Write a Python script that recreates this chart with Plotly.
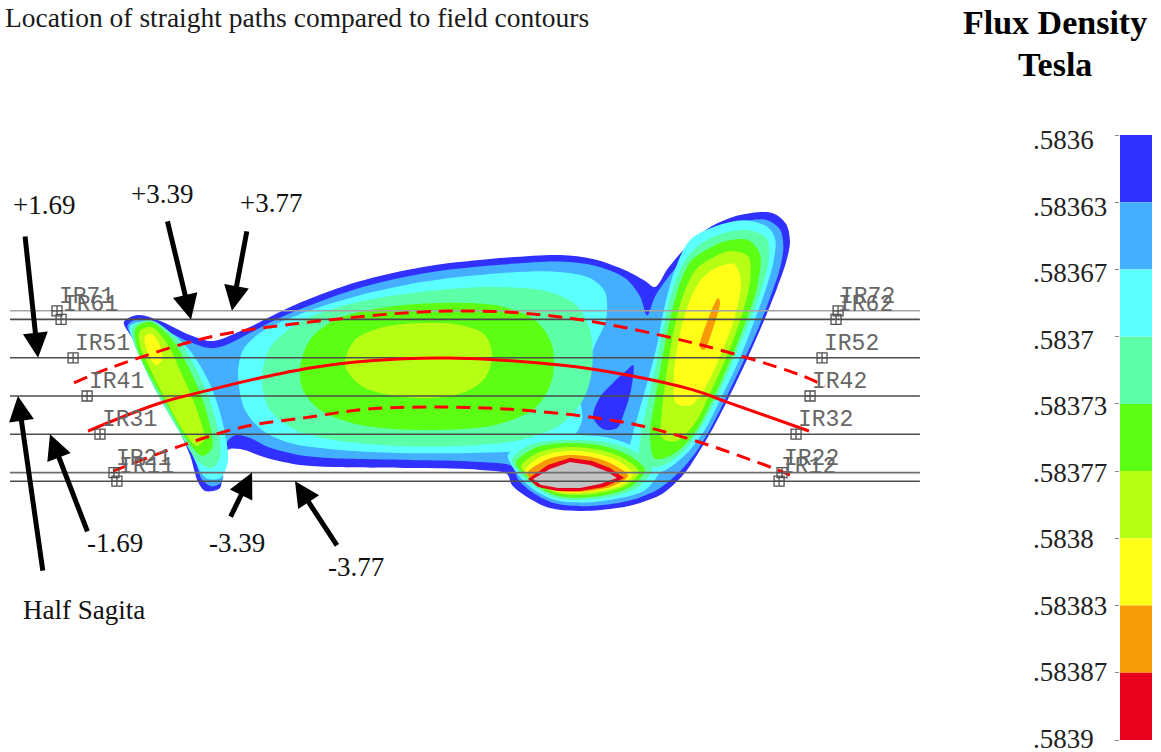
import plotly.graph_objects as go

# ---------------------------------------------------------------------------
# Flux density levels (Tesla) and the fill colour of each band, low -> high
levels = [0.5836, 0.58363, 0.58367, 0.5837, 0.58373, 0.58377, 0.5838, 0.58383, 0.58387, 0.5839]
band_colors = ["#3030FF", "#44AEFF", "#5CFFFF", "#5CFFA8", "#5CFF14", "#B6FF14",
               "#FFFF18", "#F79A08", "#E8001C"]
over_color = "#C3C3C3"          # above the top level

# Straight paths: offset from the half-sagitta line (same units as the field)
path_ids = [7, 6, 5, 4, 3, 2, 1]
path_offsets = [3.77, 3.39, 1.69, 0.0, -1.69, -3.39, -3.77]
path_colors = ["#A3A3A3", "#4D4D4D", "#4D4D4D", "#4D4D4D", "#4D4D4D", "#6E6E6E", "#4D4D4D"]
path_span = [-19.38, 20.88]
entry_x = [-17.30, -17.12, -16.59, -15.97, -15.40, -14.78, -14.65]
exit_x = [17.26, 17.17, 16.55, 16.02, 15.40, 14.78, 14.65]

# Curved trajectory (solid) and its two offset envelopes (dashed)
arc_x = [-15.93, -12.74, -10.53, -8.32, -6.11, -3.58, 0.0, 4.96, 7.92, 10.84, 12.35, 15.97]
arc_y = [-1.55, -0.31, 0.27, 0.80, 1.24, 1.55, 1.68, 1.37, 0.93, 0.27, -0.27, -1.55]
upper_x = [-16.55, -14.96, -10.53, -6.11, 0.0, 4.96, 10.84, 15.58, 16.68]
upper_y = [0.58, 1.24, 2.61, 3.27, 3.76, 3.50, 2.35, 0.93, 0.44]
lower_x = [-14.82, -11.99, -9.07, -6.11, -3.58, 0.0, 3.76, 7.92, 10.84, 14.38, 15.13]
lower_y = [-3.32, -2.26, -1.37, -0.93, -0.58, -0.49, -0.66, -1.19, -1.95, -3.19, -3.50]

# ---------------------------------------------------------------------------
# Field contour outlines (x, y)
OUTLINE = [(-14.34, 3.27), (-13.72, 3.58), (-12.74, 3.32), (-11.42, 2.70), (-10.44, 2.43),
           (-9.07, 2.92), (-7.88, 3.50), (-6.68, 4.07), (-4.03, 5.04), (-1.11, 5.71),
           (1.86, 6.06), (4.96, 6.24), (6.42, 6.06), (7.92, 5.53), (8.72, 5.09), (9.16, 4.82),
           (9.74, 5.66), (10.71, 6.77), (11.68, 7.52), (12.92, 8.01), (14.34, 8.10),
           (14.96, 7.61), (15.13, 6.81), (14.96, 5.93), (14.56, 4.78), (14.03, 3.45),
           (13.28, 1.73), (12.48, 0.04), (11.73, -1.42), (11.02, -2.61), (10.40, -3.50),
           (9.47, -4.34), (8.50, -4.73), (7.48, -4.96), (5.97, -5.09), (4.51, -4.96),
           (3.50, -4.47), (2.83, -3.94), (2.61, -3.45), (1.42, -3.27), (-1.24, -3.19),
           (-5.09, -3.14), (-6.55, -3.05), (-8.01, -2.74), (-9.20, -2.35), (-9.74, -2.39),
           (-10.00, -3.27), (-10.09, -4.07), (-10.75, -4.20), (-11.06, -3.81), (-11.42, -2.61),
           (-12.08, -1.15), (-12.74, 0.04), (-13.41, 1.37), (-13.98, 2.57)]

INNER_BASE = [(-14.18, 3.12), (-13.66, 3.42), (-12.83, 3.10), (-11.64, 2.48), (-10.53, 2.12),
              (-9.82, 2.26), (-8.94, 2.70), (-7.79, 3.30), (-6.55, 3.84), (-4.03, 4.75),
              (-1.11, 5.42), (1.86, 5.77), (4.96, 5.95), (6.42, 5.78), (7.83, 5.22), (8.50, 4.40),
              (8.81, 3.56), (9.16, 4.40), (9.74, 5.25), (10.71, 6.38), (11.68, 7.12),
              (12.92, 7.68), (14.07, 7.80), (14.70, 7.35), (14.84, 6.55), (14.66, 5.55),
              (14.27, 4.40), (13.79, 3.14), (13.10, 1.59), (12.30, -0.09), (11.58, -1.50),
              (10.88, -2.61), (10.20, -3.40), (9.30, -4.13), (8.36, -4.53), (7.30, -4.77),
              (5.97, -4.88), (4.68, -4.74), (3.75, -4.27), (3.10, -3.68), (2.85, -3.12),
              (1.42, -2.92), (-1.24, -2.84), (-5.09, -2.75), (-6.55, -2.62), (-7.96, -2.26),
              (-8.76, -1.86), (-9.38, -1.73), (-9.82, -2.08), (-10.00, -2.83), (-9.98, -3.76),
              (-10.44, -4.00), (-10.88, -3.70), (-11.25, -2.61), (-11.92, -1.19),
              (-12.58, 0.00), (-13.25, 1.28), (-13.84, 2.39)]

ISLAND = [(6.42, -0.93), (6.73, -0.04), (7.30, 0.58), (7.92, 1.15), (8.19, 1.37), (8.10, 0.27),
          (7.79, -0.75), (7.48, -1.42), (6.86, -1.46)]

# left lobe
LEFT_2 = [(-14.07, 3.10), (-13.19, 3.27), (-11.64, 2.26), (-10.62, 0.71), (-10.00, -1.06),
          (-9.74, -2.92), (-10.09, -3.63), (-10.71, -3.63), (-11.42, -2.39), (-12.30, -0.84),
          (-13.10, 0.58), (-13.76, 2.04)]
LEFT_3 = [(-13.94, 3.05), (-13.19, 3.36), (-11.95, 2.48), (-10.97, 0.84), (-10.31, -0.93),
          (-10.09, -2.74), (-10.49, -3.19), (-11.11, -2.83), (-11.99, -1.42), (-12.88, 0.13),
          (-13.54, 1.50), (-13.94, 2.48)]
LEFT_4 = [(-13.81, 3.01), (-13.19, 3.27), (-12.30, 2.61), (-11.42, 1.15), (-10.71, -0.62),
          (-10.44, -2.30), (-10.88, -2.65), (-11.55, -1.95), (-12.43, -0.40), (-13.28, 1.06),
          (-13.76, 2.17)]
LEFT_5 = [(-13.63, 2.88), (-13.14, 3.05), (-12.48, 2.39), (-11.77, 0.93), (-11.11, -0.62),
          (-10.80, -1.95), (-11.11, -2.21), (-11.68, -1.59), (-12.48, -0.18), (-13.19, 1.24),
          (-13.63, 2.26)]
LEFT_6 = [(-13.41, 2.65), (-13.10, 2.74), (-12.74, 2.21), (-12.65, 1.59), (-12.92, 1.37),
          (-13.28, 1.90)]

# main body
BODY_2 = [(-9.29, 0.93), (-9.07, 2.04), (-8.23, 2.85), (-6.55, 3.62), (-4.03, 4.42),
          (-1.11, 5.05), (1.86, 5.40), (4.73, 5.50), (6.28, 5.22), (6.95, 4.60), (6.99, 3.36),
          (6.50, 2.26), (6.06, 1.15), (5.84, 0.04), (5.93, -1.06), (5.40, -1.95), (3.63, -2.39),
          (0.97, -2.52), (-2.12, -2.52), (-4.78, -2.39), (-6.99, -2.08), (-8.23, -1.50),
          (-8.98, -0.62)]
BODY_3 = [(-8.23, 0.71), (-7.88, 2.12), (-6.55, 3.27), (-4.34, 4.07), (-1.24, 4.60),
          (1.86, 4.82), (4.29, 4.65), (5.62, 4.07), (6.28, 2.92), (6.37, 1.15), (5.97, -0.18),
          (4.96, -1.28), (3.19, -1.95), (0.53, -2.21), (-2.12, -2.21), (-4.78, -1.99),
          (-6.77, -1.50), (-7.88, -0.62)]
BODY_4 = [(-6.55, 1.24), (-6.11, 2.48), (-5.00, 3.36), (-3.01, 3.89), (-0.35, 4.12),
          (2.30, 3.98), (3.85, 3.36), (4.60, 2.26), (4.60, 0.71), (3.85, -0.53), (2.08, -1.28),
          (-0.80, -1.50), (-3.89, -1.28), (-5.66, -0.62), (-6.42, 0.27)]
BODY_5 = [(-4.56, 1.37), (-4.12, 2.48), (-3.01, 3.01), (-1.24, 3.23), (0.53, 3.14),
          (1.64, 2.70), (1.95, 1.81), (1.64, 0.80), (0.75, 0.18), (-0.80, -0.09),
          (-2.57, 0.04), (-3.89, 0.49)]

# right lobe
RIGHT_2 = [(10.71, 6.90), (11.81, 7.50), (13.14, 7.78), (14.15, 7.47), (14.48, 6.92),
           (14.40, 5.93), (14.05, 4.69), (13.54, 3.27), (12.88, 1.59), (12.08, -0.09),
           (11.36, -1.50), (10.58, -2.52), (9.66, -3.25), (8.50, -3.63), (7.83, -3.27),
           (8.05, -2.17), (8.41, -0.84), (8.85, 0.71), (9.25, 2.26), (9.60, 4.03), (10.04, 5.58)]
RIGHT_3 = [(11.02, 6.62), (12.04, 7.16), (13.28, 7.35), (14.10, 6.96), (14.18, 5.93),
           (13.83, 4.60), (13.28, 3.14), (12.60, 1.50), (11.84, -0.18), (11.07, -1.59),
           (10.20, -2.65), (9.20, -3.14), (8.50, -2.92), (8.50, -1.95), (8.81, -0.40),
           (9.16, 1.15), (9.51, 2.92), (9.91, 4.60), (10.40, 5.85)]
RIGHT_4 = [(11.28, 6.38), (12.26, 6.85), (13.28, 6.90), (13.80, 6.28), (13.70, 4.91),
           (13.17, 3.27), (12.46, 1.50), (11.70, -0.18), (10.94, -1.59), (10.06, -2.52),
           (9.16, -2.78), (8.94, -1.73), (9.16, -0.18), (9.47, 1.59), (9.82, 3.36),
           (10.27, 5.00), (10.75, 5.98)]
RIGHT_5 = [(11.59, 6.05), (12.48, 6.42), (13.28, 6.18), (13.36, 5.04), (12.96, 3.45),
           (12.34, 1.77), (11.62, 0.18), (10.90, -1.24), (10.12, -1.99), (9.47, -1.86),
           (9.47, -0.62), (9.69, 1.15), (10.00, 2.92), (10.44, 4.56), (10.97, 5.60)]
RIGHT_6 = [(11.86, 5.66), (12.66, 5.84), (12.96, 5.04), (12.70, 3.54), (12.12, 1.95),
           (11.44, 0.49), (10.76, -0.40), (10.09, -0.31), (10.00, 0.93), (10.22, 2.57),
           (10.66, 4.12), (11.19, 5.13)]
RIGHT_7 = [(11.95, 4.34), (12.04, 4.16), (11.73, 3.01), (11.33, 2.04), (11.15, 2.17),
           (11.46, 3.27)]

# lower bump
BUMP_2 = [(2.65, -2.61), (3.63, -1.95), (5.40, -1.73), (7.17, -1.86), (8.50, -2.39),
          (9.38, -3.19), (8.72, -4.16), (7.39, -4.56), (5.97, -4.72), (4.65, -4.58),
          (3.76, -4.12), (3.19, -3.58), (2.83, -3.10)]
BUMP_3 = [(2.83, -2.83), (3.63, -2.17), (5.18, -1.95), (6.95, -2.04), (8.28, -2.48),
          (9.03, -3.19), (8.41, -4.03), (7.26, -4.45), (5.93, -4.60), (4.73, -4.50),
          (3.94, -4.07), (3.27, -3.54)]
BUMP_4 = [(3.01, -2.96), (3.85, -2.30), (5.18, -2.08), (6.86, -2.21), (8.05, -2.65),
          (8.72, -3.27), (8.14, -3.98), (7.08, -4.36), (5.84, -4.50), (4.78, -4.40),
          (4.03, -4.03), (3.41, -3.50)]
BUMP_5 = [(3.23, -3.10), (4.07, -2.48), (5.27, -2.26), (6.73, -2.39), (7.83, -2.79),
          (8.45, -3.36), (7.92, -3.94), (6.95, -4.25), (5.84, -4.38), (4.82, -4.29),
          (4.12, -3.98), (3.54, -3.54)]
BUMP_6 = [(3.41, -3.27), (4.20, -2.65), (5.31, -2.43), (6.64, -2.57), (7.61, -2.92),
          (8.19, -3.45), (7.70, -3.94), (6.86, -4.16), (5.84, -4.29), (4.87, -4.25),
          (4.20, -3.98), (3.67, -3.63)]
BUMP_7 = [(3.50, -3.45), (4.34, -2.83), (5.35, -2.61), (6.55, -2.74), (7.43, -3.10),
          (7.96, -3.54), (7.30, -3.98), (6.55, -4.16), (5.75, -4.25), (4.87, -4.20),
          (4.12, -3.94)]
BUMP_8 = [(3.54, -3.67), (4.42, -3.05), (5.40, -2.74), (6.37, -2.88), (7.17, -3.19),
          (7.79, -3.63), (6.90, -4.03), (5.84, -4.20), (4.82, -4.20), (3.98, -4.03)]
BUMP_CORE = [(3.76, -3.67), (4.51, -3.23), (5.40, -2.92), (6.28, -3.05), (6.99, -3.32),
             (7.48, -3.63), (6.73, -3.89), (5.84, -4.07), (4.87, -4.07), (4.12, -3.94)]

# painting order: each band over the ones below it
field_layers = [
    (0, OUTLINE), (1, INNER_BASE),
    (2, LEFT_2), (2, BODY_2), (2, RIGHT_2), (2, BUMP_2),
    (0, ISLAND),
    (3, LEFT_3), (3, BODY_3), (3, RIGHT_3), (3, BUMP_3),
    (4, LEFT_4), (4, BODY_4), (4, RIGHT_4), (4, BUMP_4),
    (5, LEFT_5), (5, BODY_5), (5, RIGHT_5), (5, BUMP_5),
    (6, LEFT_6), (6, RIGHT_6), (6, BUMP_6),
    (7, RIGHT_7), (7, BUMP_7),
    (8, BUMP_8), (9, BUMP_CORE),
]

# Callout arrows to the path offsets: tip x, tail (x, y), label (x, y)
callout_offsets = [1.69, 3.39, 3.77, 0.0, -1.69, -3.39, -3.77]
callout_tip_x = [-18.14, -11.37, -9.56, -19.03, -17.61, -8.67, -6.77]
callout_tail = [(-18.72, 7.12), (-12.43, 7.79), (-8.89, 7.35), (-17.92, -7.79),
                (-15.93, -6.06), (-9.65, -5.40), (-4.87, -6.68)]
callout_label = [(-17.88, 8.45), (-12.65, 8.94), (-7.83, 8.54), (-16.10, -9.47),
                 (-14.73, -6.50), (-9.34, -6.50), (-4.07, -7.57)]

# ---------------------------------------------------------------------------
W, H = 1161, 752
SERIF = "Liberation Serif, Times New Roman, serif"
MONO = "Liberation Mono, Courier New, monospace"

fig = go.Figure()

for lvl, pts in field_layers:
    color = band_colors[lvl] if lvl < len(band_colors) else over_color
    shape = "linear" if lvl >= 8 else "spline"
    xs = [p[0] for p in pts] + [pts[0][0]]
    ys = [p[1] for p in pts] + [pts[0][1]]
    fig.add_trace(go.Scatter(x=xs, y=ys, mode="lines", fill="toself", fillcolor=color,
                             line=dict(width=0, shape=shape, smoothing=0.9, color=color),
                             hoverinfo="skip", showlegend=False))

# straight paths
for off, col in zip(path_offsets, path_colors):
    fig.add_trace(go.Scatter(x=path_span, y=[off, off], mode="lines",
                             line=dict(color=col, width=1.6), hoverinfo="skip",
                             showlegend=False))

# trajectory and envelopes
fig.add_trace(go.Scatter(x=upper_x, y=upper_y, mode="lines",
                         line=dict(color="#FF0000", width=3, dash="14px,8px",
                                   shape="spline"), showlegend=False, hoverinfo="skip"))
fig.add_trace(go.Scatter(x=lower_x, y=lower_y, mode="lines",
                         line=dict(color="#FF0000", width=3, dash="14px,8px",
                                   shape="spline"), showlegend=False, hoverinfo="skip"))
fig.add_trace(go.Scatter(x=arc_x, y=arc_y, mode="lines",
                         line=dict(color="#FF0000", width=3, shape="spline"),
                         showlegend=False, hoverinfo="skip"))

# path end points
fig.add_trace(go.Scatter(x=entry_x + exit_x, y=path_offsets + path_offsets, mode="markers",
                         marker=dict(symbol="square-cross-open", size=10, color="#505050",
                                     line=dict(color="#505050", width=1.3)),
                         showlegend=False, hoverinfo="skip"))

annotations = []
for pid, off, xl, xr in zip(path_ids, path_offsets, entry_x, exit_x):
    for x, side in ((xl, 1), (xr, 2)):
        annotations.append(dict(x=x, y=off, xref="x", yref="y", text=f"IR{pid}{side}",
                                showarrow=False, xanchor="left", yanchor="middle",
                                xshift=0, yshift=14,
                                font=dict(family=MONO, size=23, color="#666666")))

# callouts
for off, tx, (ax, ay), (lx, ly) in zip(callout_offsets, callout_tip_x, callout_tail,
                                       callout_label):
    annotations.append(dict(x=tx, y=off, xref="x", yref="y", ax=ax, ay=ay,
                            axref="x", ayref="y", text="", showarrow=True,
                            arrowhead=2, arrowsize=1.0, arrowwidth=5,
                            arrowcolor="#000000", standoff=0))
    label = "Half Sagita" if off == 0 else f"{off:+.2f}"
    annotations.append(dict(x=lx, y=ly, xref="x", yref="y", text=label, showarrow=False,
                            xanchor="center", yanchor="middle",
                            font=dict(family=SERIF, size=27, color="#111111")))

# titles
annotations.append(dict(x=3 / W, y=1 - 18 / H, xref="paper", yref="paper",
                        text="Location of straight paths compared to field contours",
                        showarrow=False, xanchor="left", yanchor="middle",
                        font=dict(family=SERIF, size=27.5, color="#1A1A1A")))
annotations.append(dict(x=1055 / W, y=1 - 22 / H, xref="paper", yref="paper",
                        text="<b>Flux Density</b>", showarrow=False,
                        xanchor="center", yanchor="middle",
                        font=dict(family=SERIF, size=34, color="#000000")))
annotations.append(dict(x=1055 / W, y=1 - 64 / H, xref="paper", yref="paper",
                        text="<b>Tesla</b>", showarrow=False,
                        xanchor="center", yanchor="middle",
                        font=dict(family=SERIF, size=34, color="#000000")))

# colour key: one stacked segment per band
nb = len(band_colors)
fig.add_trace(go.Bar(x=[0] * nb, y=[1] * nb, base=list(range(nb)), width=1,
                     marker=dict(color=band_colors, line=dict(width=0)),
                     xaxis="x2", yaxis="y2", showlegend=False, hoverinfo="skip"))
for k, v in enumerate(levels):
    annotations.append(dict(x=1031 / W, y=k, xref="paper", yref="y2",
                            text=f"{v:g}".lstrip("0"), showarrow=False,
                            xanchor="left", yanchor="middle", yshift=-5 + 0.7 * k,
                            font=dict(family=SERIF, size=27, color="#222222")))

fig.update_layout(
    width=W, height=H,
    margin=dict(l=0, r=0, t=0, b=0, pad=0),
    paper_bgcolor="white", plot_bgcolor="white",
    showlegend=False,
    xaxis=dict(domain=[0, 1], range=[-448 / 22.6, (W - 448) / 22.6], visible=False),
    yaxis=dict(domain=[0, 1], range=[(396 - H) / 22.6, 396 / 22.6], visible=False),
    xaxis2=dict(domain=[1120 / W, 1152 / W], range=[-0.5, 0.5], anchor="y2",
                visible=False),
    yaxis2=dict(domain=[1 - 740 / H, 1 - 135 / H], range=[nb, 0], anchor="x2",
                tickvals=list(range(nb + 1)), ticks="outside", ticklen=4,
                tickcolor="#888888", showticklabels=False, showgrid=False,
                zeroline=False, showline=False),
    annotations=annotations,
)

fig.write_html("out.html")
